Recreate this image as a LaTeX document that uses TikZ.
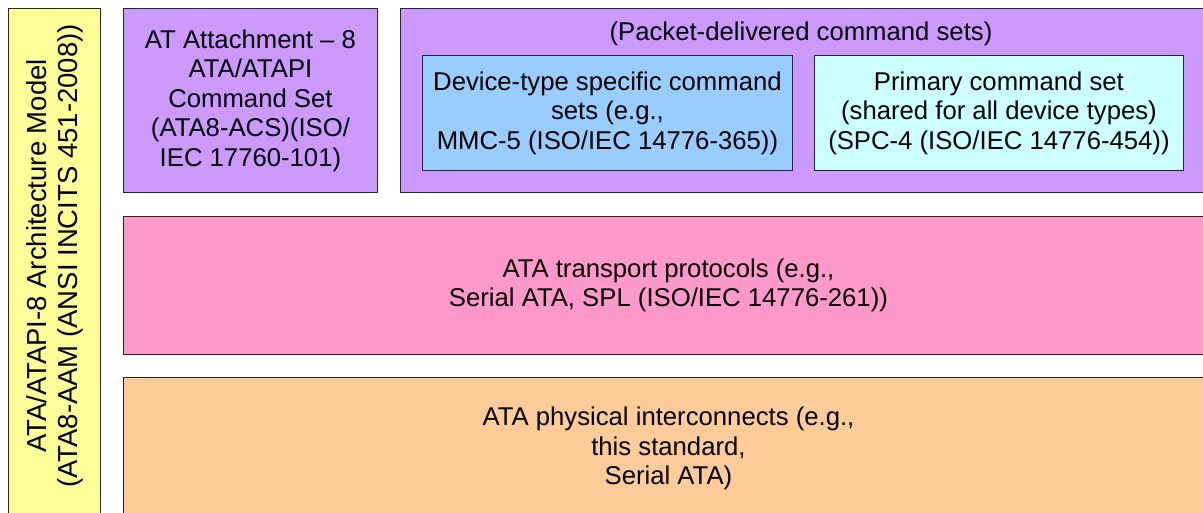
\documentclass[tikz,border=0pt]{standalone}
\usepackage{fontspec}
\setmainfont{Liberation Sans}
\usepackage{tikz}

\definecolor{aamyellow}{HTML}{FFFF99}
\definecolor{cmdpurple}{HTML}{CC99FF}
\definecolor{devblue}{HTML}{99CCFF}
\definecolor{primcyan}{HTML}{CCFFFF}
\definecolor{transpink}{HTML}{FF99CC}
\definecolor{physorange}{HTML}{FFCC99}

\begin{document}
\begin{tikzpicture}[x=1pt,y=-1pt,
        every node/.style={draw=black!85,line width=0.9pt,inner sep=0pt,align=center,
            font=\fontsize{25.7}{29.5}\selectfont},
        layer/.style={anchor=north west},
        caption/.style={draw=none}]

    \useasboundingbox (0,0) rectangle (1203,512);
    \clip (0,0) rectangle (1203,512);

    \node[layer,fill=aamyellow,minimum width=92pt,minimum height=514pt] (aam) at (8,8) {};
    \node[caption,rotate=90,font=\fontsize{27.5}{31}\selectfont] (aamtext) at (55,256)
        {ATA/ATAPI-8 Architecture Model\\(ATA8-AAM (ANSI INCITS 451-2008))};

    \node[layer,fill=cmdpurple,minimum width=254pt,minimum height=184pt] (acs) at (123,8)
        {AT Attachment -- 8\\ATA/ATAPI\\Command Set\\(ATA8-ACS)(ISO/\\IEC 17760-101)};

    \node[layer,fill=cmdpurple,minimum width=810pt,minimum height=184pt] (packet) at (400,8) {};
    \node[caption] (packettext) at (801,34) {(Packet-delivered command sets)};
    \node[layer,fill=devblue,minimum width=370pt,minimum height=115pt] (devtype) at (422,55)
        {Device-type specific command\\sets (e.g.,\\MMC-5 (ISO/IEC 14776-365))};
    \node[layer,fill=primcyan,minimum width=369pt,minimum height=115pt] (primary) at (814,55)
        {Primary command set\\(shared for all device types)\\(SPC-4 (ISO/IEC 14776-454))};

    \node[layer,fill=transpink,minimum width=1090pt,minimum height=138pt] (transport) at (123,216)
        {ATA transport protocols (e.g.,\\Serial ATA, SPL (ISO/IEC 14776-261))};

    \node[layer,fill=physorange,minimum width=1090pt,minimum height=142pt] (physical) at (123,377)
        {ATA physical interconnects (e.g.,\\this standard,\\Serial ATA)};
\end{tikzpicture}
\end{document}
